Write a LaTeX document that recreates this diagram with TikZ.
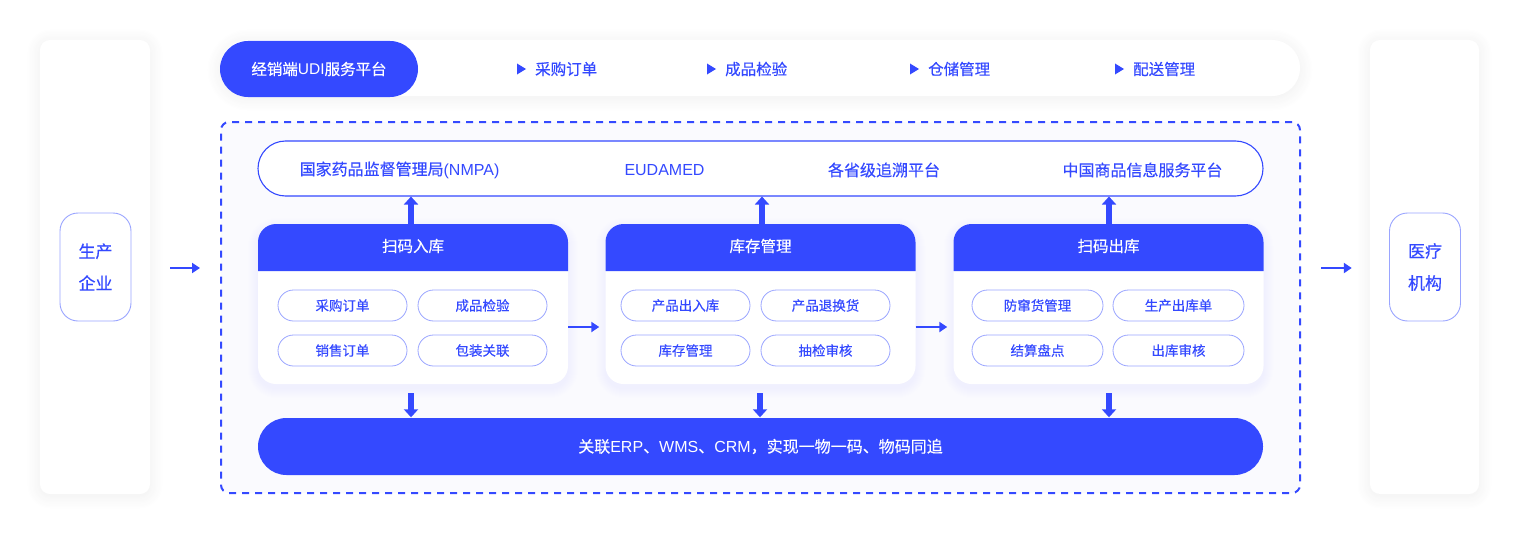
\documentclass[tikz,border=0pt]{standalone}
\usepackage{fontspec}
\setmainfont{Noto Sans CJK SC}[FakeBold=0.35]
\newfontfamily\lat{Liberation Sans}
\usetikzlibrary{arrows.meta,shadows.blur,calc}
\definecolor{ub}{HTML}{3449FF}
\definecolor{pb}{HTML}{9AA5FF}
\definecolor{fr}{HTML}{FAFAFE}
\newcommand\fsz[1]{\fontsize{#1}{#1}\selectfont}
\tikzset{
  shd/.style={blur shadow={shadow blur steps=12, shadow xshift=0pt, shadow yshift=-2pt, shadow blur radius=14pt, shadow opacity=7}},
  panel/.style={fill=white, rounded corners=10, shd, inner sep=0},
  entbox/.style={draw=pb, line width=0.9, fill=white, rounded corners=18, minimum width=71, minimum height=108, inner sep=0, text=ub, align=center, font=\fontsize{17}{32}\selectfont},
  pill/.style={draw=pb, line width=0.8, fill=white, rounded corners=15.5, minimum width=129, minimum height=31, inner sep=0, text=ub, font=\fsz{13.5}},
  cardbody/.style={fill=white, rounded corners=18, minimum width=310, minimum height=160, inner sep=0},
  softshadow/.style={ub, fill opacity=0.005},
  cardhead/.style={text=white, font=\fsz{15.5}},
  thin/.style={ub, line width=2, -{Triangle[length=8,width=10]}},
  thick/.style={ub, line width=5.5, -{Triangle[length=8,width=14]}},
  item/.style={text=ub, font=\fsz{15.5}, anchor=west, inner sep=0},
  plat/.style={text=ub, font=\fsz{16}, inner sep=0},
}
\begin{document}
\begin{tikzpicture}[x=1pt,y=-1pt]
\useasboundingbox (0,0) rectangle (1520,535);

% side panels
\node[panel, minimum width=110, minimum height=454] (lp) at (95,267) {};
\node[panel, minimum width=109, minimum height=454] (rp) at (1424.5,267) {};
\node[entbox] (ent) at (95.5,267) {生产\\企业};
\node[entbox] (hosp) at (1425,267) {医疗\\机构};

% top bar
\node[fill=white, rounded corners=28, minimum width=1080, minimum height=56, inner sep=0, shd] (topbar) at (760,68) {};
\node[fill=ub, rounded corners=28, minimum width=198, minimum height=56, inner sep=0, text=white, font=\fsz{15.5}] (udi) at (319,69) {经销端{\lat UDI}服务平台};
\node[item] (i1) at (535,69) {采购订单};
\node[item] (i2) at (725,69) {成品检验};
\node[item] (i3) at (928,69) {仓储管理};
\node[item] (i4) at (1133,69) {配送管理};
\foreach \n in {i1,i2,i3,i4}{
  \fill[ub] ($(\n.west)+(-18,-5.5)$) -- ++(9,5.5) -- ++(-9,5.5) -- cycle;
}

% dashed frame
\node[draw=ub, dash pattern=on 7 off 6, line width=2, fill=fr, rounded corners=8, minimum width=1079, minimum height=371, inner sep=0] (frame) at (760.5,307.5) {};

% platforms
\node[draw=ub, line width=1.1, fill=white, rounded corners=27.5, minimum width=1005, minimum height=55, inner sep=0] (plat) at (760.5,168.5) {};
\node[plat] (p1) at (399.5,170) {国家药品监督管理局{\lat (NMPA)}};
\node[plat] (p2) at (664.5,170) {\lat EUDAMED};
\node[plat] (p3) at (884,170) {各省级追溯平台};
\node[plat] (p4) at (1142.5,170) {中国商品信息服务平台};

% cards
\foreach \k/\cx/\title in {1/413/扫码入库, 2/760.5/库存管理, 3/1108.5/扫码出库}{
  \foreach \s in {1,...,10}{
    \fill[softshadow, rounded corners=18+\s] (\cx-155-\s,224-\s+4) rectangle (\cx+155+\s,384+\s+4);
  }
  \node[cardbody] (card\k) at (\cx,304) {};
  \fill[ub] (\cx-155,271) [rounded corners=18] -- (\cx-155,224) -- (\cx+155,224) [sharp corners] -- (\cx+155,271) -- cycle;
  \node[cardhead] (head\k) at (\cx,246) {\title};
}
\node[pill] (a1) at (342.5,305.5) {采购订单};
\node[pill] (a2) at (482.5,305.5) {成品检验};
\node[pill] (a3) at (342.5,350.5) {销售订单};
\node[pill] (a4) at (482.5,350.5) {包装关联};
\node[pill] (b1) at (685.5,305.5) {产品出入库};
\node[pill] (b2) at (825.5,305.5) {产品退换货};
\node[pill] (b3) at (685.5,350.5) {库存管理};
\node[pill] (b4) at (825.5,350.5) {抽检审核};
\node[pill, minimum width=131] (c1) at (1037.5,305.5) {防窜货管理};
\node[pill, minimum width=131] (c2) at (1178.5,305.5) {生产出库单};
\node[pill, minimum width=131] (c3) at (1037.5,350.5) {结算盘点};
\node[pill, minimum width=131] (c4) at (1178.5,350.5) {出库审核};

% bottom bar
\node[fill=ub, rounded corners=28.5, minimum width=1005, minimum height=57, inner sep=0, text=white, font=\fsz{16}] (erp) at (760.5,446.5) {关联{\lat ERP}、{\lat WMS}、{\lat CRM}，实现一物一码、物码同追};

% connectors
\draw[thin, shorten <=20, shorten >=20] (lp.east |- 0,268) -- (frame.west |- 0,268);
\draw[thin, shorten <=20, shorten >=18] (frame.east |- 0,268) -- (rp.west |- 0,268);
\draw[thin, shorten >=6] (card1.east |- 0,327) -- (card2.west |- 0,327);
\draw[thin, shorten >=6] (card2.east |- 0,327) -- (card3.west |- 0,327);
\foreach \k/\dx in {1/-2, 2/1.5, 3/0.5}{
  \draw[thick] ([xshift=\dx]card\k.north) -- ([xshift=\dx]card\k.north |- plat.south);
}
\foreach \k/\dx in {1/-2, 2/-0.5, 3/0.5}{
  \draw[thick, shorten <=9, shorten >=0.5] ([xshift=\dx]card\k.south) -- ([xshift=\dx]card\k.south |- erp.north);
}
\end{tikzpicture}
\end{document}
